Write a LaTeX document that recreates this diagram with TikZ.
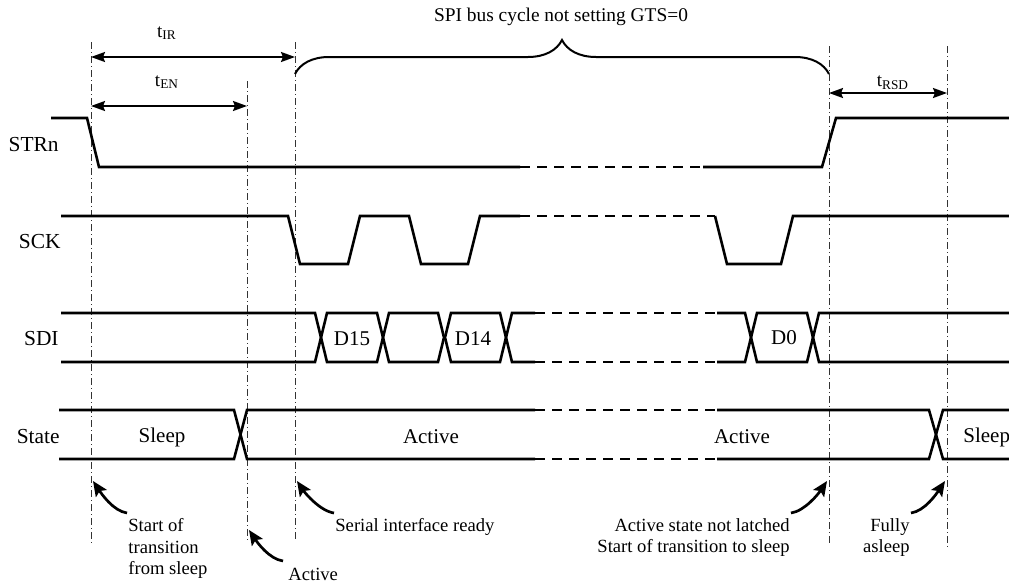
\documentclass[tikz,border=0pt]{standalone}
\usepackage{fontspec}
\setmainfont{Liberation Serif}
\usetikzlibrary{arrows.meta,decorations.pathreplacing}

\begin{document}
\begin{tikzpicture}[x=0.5pt,y=-0.5pt,
  sig/.style={line width=1.3pt,line join=miter},
  gap/.style={line width=1.3pt,dash pattern=on 5pt off 3.5pt},
  marker/.style={line width=0.5pt,black!80,dash pattern=on 3.5pt off 1.5pt on 0.5pt off 1.5pt},
  span/.style={line width=1pt,{Stealth[length=7pt,width=5pt,inset=1pt]}-{Stealth[length=7pt,width=5pt,inset=1pt]}},
  pointer/.style={line width=1.35pt,-{Stealth[length=7.5pt,width=6.5pt,inset=1.5pt]}},
  signame/.style={anchor=east,inner sep=0pt,font=\fontsize{10.7}{12}\selectfont},
  val/.style={font=\fontsize{10.5}{12}\selectfont},
  note/.style={inner sep=0pt,font=\fontsize{9.3}{10.75}\selectfont}]

 \useasboundingbox (0,0) rectangle (1009,584);

 % Marker lines
 \coordinate (v1t) at (91,42);  \coordinate (v1b) at (91,545);
 \coordinate (v2t) at (247,81); \coordinate (v2b) at (247,540);
 \coordinate (v3t) at (295,42); \coordinate (v3b) at (295,540);
 \coordinate (v4t) at (829,46); \coordinate (v4b) at (829,543);
 \coordinate (v5t) at (947,46); \coordinate (v5b) at (947,548);
 \foreach \v in {v1,v2,v3,v4,v5}
   \draw[marker] (\v t) -- (\v b);

 % Timing arrows
 \draw[span] (v1t |- 0,57) -- (v3t |- 0,57);
 \node (tir) at (167,33) {\fontsize{9.5}{11}\selectfont t\textsubscript{IR}};
 \draw[span] (v1t |- 0,106) -- (v2t |- 0,106);
 \node (ten) at (167,82) {\fontsize{9.5}{11}\selectfont t\textsubscript{EN}};
 \draw[span] (v4t |- 0,93) -- (v5t |- 0,93);
 \node (trsd) at (893,83) {\fontsize{9.5}{11}\selectfont t\textsubscript{RSD}};

 % Brace over the bus cycle
 \draw[line width=1pt,decorate,decoration={brace,amplitude=17pt}] (v3t |- 0,74) -- (v4t |- 0,74);
 \node (cycle) at (561,17) {\fontsize{9.7}{11}\selectfont SPI bus cycle not setting GTS=0};

 % Signal names
 \node[signame] (lstrn) at (59,145) {STRn};
 \node[signame] (lsck) at (61,242) {SCK};
 \node[signame] (lsdi) at (59,339) {SDI};
 \node[signame] (lstate) at (60,437) {State};

 % STRn
 \draw[sig] (51,118) -- (87,118) -- (99,167) -- (520,167);
 \draw[gap] (520,167) -- (703,167);
 \draw[sig] (703,167) -- (822,167) -- (836,118) -- (1009,118);

 % SCK
 \draw[sig] (61,216) -- (288,216) -- (300,264) -- (348,264) -- (360,216) -- (409,216)
   -- (421,264) -- (468,264) -- (480,216) -- (520,216);
 \draw[gap] (520,216) -- (715,216);
 \draw[sig] (715,216) -- (727,264) -- (781,264) -- (793,216) -- (1009,216);

 % SDI
 \draw[sig] (61,313) -- (315,313) -- (321,337.5) -- (315,362) -- (61,362);
 \foreach \a/\b in {327/377,389/438,451/500,757/807}
   \draw[sig] (\a-6,337.5) -- (\a,313) -- (\b,313) -- (\b+6,337.5) -- (\b,362) -- (\a,362) -- cycle;
 \draw[sig] (535,313) -- (512,313) -- (506,337.5) -- (512,362) -- (535,362);
 \draw[gap] (535,313) -- (717,313) (535,362) -- (717,362);
 \draw[sig] (717,313) -- (745,313) -- (751,337.5) -- (745,362) -- (717,362);
 \draw[sig] (1009,313) -- (819,313) -- (813,337.5) -- (819,362) -- (1009,362);
 \node[val] (d15) at (352,339) {D15};
 \node[val] (d14) at (473,339) {D14};
 \node[val] (d0) at (784,338) {D0};

 % State
 \draw[sig] (59,410) -- (234,410) -- (240.5,434.5) -- (234,459) -- (59,459);
 \draw[sig] (535,410) -- (247,410) -- (240.5,434.5) -- (247,459) -- (535,459);
 \draw[gap] (535,410) -- (717,410) (535,459) -- (717,459);
 \draw[sig] (717,410) -- (929,410) -- (936,434.5) -- (929,459) -- (717,459);
 \draw[sig] (1009,410) -- (943,410) -- (936,434.5) -- (943,459) -- (1009,459);
 \node[val] (sleepa) at (162,437) {Sleep};
 \node[val] (activea) at (431,437) {Active};
 \node[val] (activeb) at (742,437) {Active};
 \node[val,anchor=west,inner sep=0pt] (sleepb) at (963,437) {Sleep};

 % Notes below
 \node[note,anchor=north west,align=left] (nstart) at (128,518) {Start of\\transition\\from sleep};
 \node[note,anchor=base west] (nactive) at (288,580) {Active};
 \node[note,anchor=base west] (nready) at (335,531) {Serial interface ready};
 \node[note,anchor=north east,align=right] (nlatch) at (790,518) {Active state not latched\\Start of transition to sleep};
 \node[note,anchor=north east,align=right] (nasleep) at (910,518) {Fully\\asleep};

 \coordinate (h1) at (93,481);  \coordinate (t1) at (127,513);
 \coordinate (h2) at (249,530); \coordinate (t2) at (283,561);
 \coordinate (h3) at (297,481); \coordinate (t3) at (334,513);
 \coordinate (h4) at (827,481); \coordinate (t4) at (791,513);
 \coordinate (h5) at (945,481); \coordinate (t5) at (911,513);
 \draw[pointer] (t1) .. controls +(-14,-2) and +(8,12) .. (h1);
 \draw[pointer] (t2) .. controls +(-14,-2) and +(8,12) .. (h2);
 \draw[pointer] (t3) .. controls +(-14,-2) and +(8,12) .. (h3);
 \draw[pointer] (t4) .. controls +(14,-2) and +(-8,12) .. (h4);
 \draw[pointer] (t5) .. controls +(14,-2) and +(-8,12) .. (h5);

\end{tikzpicture}
\end{document}
